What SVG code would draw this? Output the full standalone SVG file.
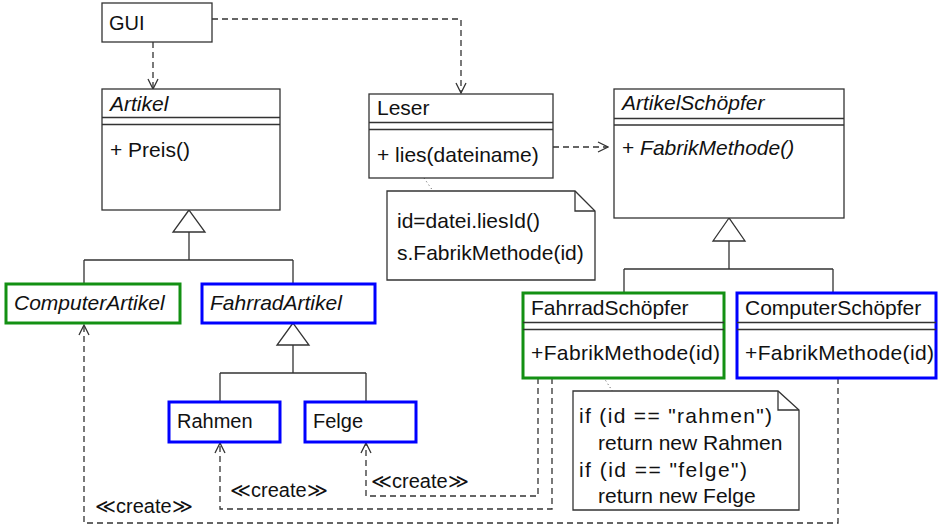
<svg xmlns="http://www.w3.org/2000/svg" width="938" height="525" viewBox="0 0 938 525">
<style>
text{font-family:"Liberation Sans",Arial,sans-serif;font-size:21px;fill:#111}
.sm{font-size:20px}
.it{font-style:italic}
.box{fill:#fff;stroke:#333;stroke-width:1.3}
.g{fill:#fff;stroke:#139013;stroke-width:3}
.b{fill:#fff;stroke:#0000ff;stroke-width:3}
.ln{fill:none;stroke:#333;stroke-width:1.3}
.dash{fill:none;stroke:#333;stroke-width:1.3;stroke-dasharray:6 4}
.dot{fill:none;stroke:#555;stroke-width:1;stroke-dasharray:1 3}
.tri{fill:#fff;stroke:#333;stroke-width:1.3}
</style>
<defs>
<marker id="open" viewBox="0 0 12 12" refX="11" refY="6" markerWidth="12" markerHeight="12" markerUnits="userSpaceOnUse" orient="auto">
<path d="M1,1 L11,6 L1,11" fill="none" stroke="#333" stroke-width="1.3"/>
</marker>
</defs>

<g id="connectors">
<path class="dash" d="M153,42 V89" marker-end="url(#open)"/>
<path class="dash" d="M212,19 H461 V93" marker-end="url(#open)"/>
<path class="dash" d="M553,147 H608" marker-end="url(#open)"/>
<path class="dot" d="M415,165 L433,191"/>
<path class="dot" d="M597,367 L613,392"/>
<path class="ln" d="M189,232 V260 M84,260 H293 M84,260 V284 M293,260 V284"/>
<polygon class="tri" points="189,210 173,232 205,232"/>
<path class="ln" d="M293,345 V373 M220,373 H366 M220,373 V402 M366,373 V402"/>
<polygon class="tri" points="293,323 277,345 309,345"/>
<path class="ln" d="M729,241 V269 M624,269 H833 M624,269 V293 M833,269 V293"/>
<polygon class="tri" points="729,218 713,241 745,241"/>
<path class="dash" d="M838,378 V523 H84 V325" marker-end="url(#open)"/>
<path class="dash" d="M552,378 V509 H220 V443" marker-end="url(#open)"/>
<path class="dash" d="M538,378 V496 H366 V443" marker-end="url(#open)"/>
<text class="sm" x="95" y="513">≪create≫</text>
<text class="sm" x="230" y="497">≪create≫</text>
<text class="sm" x="371" y="488">≪create≫</text>
</g>

<g id="gui">
<rect class="box" x="102" y="3" width="110" height="39"/>
<text class="sm" x="109" y="30">GUI</text>
</g>

<g id="artikel">
<rect class="box" x="102" y="89" width="178" height="121"/>
<path class="ln" d="M102,117.5 H280 M102,124.5 H280"/>
<text class="it" x="110" y="111">Artikel</text>
<text x="110" y="157">+ Preis()</text>
</g>

<g id="leser">
<rect class="box" x="369" y="94" width="184" height="84"/>
<path class="ln" d="M369,122.5 H553 M369,129.5 H553"/>
<text x="377" y="115">Leser</text>
<text x="377" y="162">+ lies(dateiname)</text>
</g>

<g id="note1">
<path class="box" d="M387,191 H575 L595,211 V280 H387 Z"/>
<path class="ln" d="M575,191 V211 H595"/>
<text x="397" y="228">id=datei.liesId()</text>
<text x="397" y="260">s.FabrikMethode(id)</text>
</g>

<g id="artikelschoepfer">
<rect class="box" x="614" y="89" width="230" height="129"/>
<path class="ln" d="M614,118.5 H844 M614,125 H844"/>
<text class="it" x="622" y="110">ArtikelSchöpfer</text>
<text x="622" y="155">+ <tspan class="it">FabrikMethode()</tspan></text>
</g>

<g id="computerartikel">
<rect class="g" x="6" y="284" width="174" height="39"/>
<text class="it" x="14" y="310">ComputerArtikel</text>
</g>

<g id="fahrradartikel">
<rect class="b" x="202" y="284" width="173" height="39"/>
<text class="it" x="210" y="310">FahrradArtikel</text>
</g>

<g id="rahmen">
<rect class="b" x="169" y="402" width="111" height="40"/>
<text class="sm" x="177" y="428">Rahmen</text>
</g>

<g id="felge">
<rect class="b" x="305" y="402" width="111" height="40"/>
<text class="sm" x="313" y="428">Felge</text>
</g>

<g id="fahrradschoepfer">
<rect class="g" x="523" y="293" width="201" height="85"/>
<path class="ln" d="M523,322.5 H724 M523,329.5 H724"/>
<text x="531" y="315">FahrradSchöpfer</text>
<text x="531" y="360" textLength="189" lengthAdjust="spacing">+FabrikMethode(id)</text>
</g>

<g id="computerschoepfer">
<rect class="b" x="737" y="293" width="199" height="85"/>
<path class="ln" d="M737,322.5 H936 M737,329.5 H936"/>
<text x="745" y="315">ComputerSchöpfer</text>
<text x="745" y="360" textLength="189" lengthAdjust="spacing">+FabrikMethode(id)</text>
</g>

<g id="note2">
<path class="box" d="M573,391 H778 L799,410 V510 H573 Z"/>
<path class="ln" d="M778,391 V410 H799"/>
<text x="579" y="423" textLength="193" lengthAdjust="spacing">if (id == "rahmen")</text>
<text x="598" y="450">return new Rahmen</text>
<text x="579" y="477" textLength="168" lengthAdjust="spacing">if (id == "felge")</text>
<text x="598" y="503">return new Felge</text>
</g>
</svg>
